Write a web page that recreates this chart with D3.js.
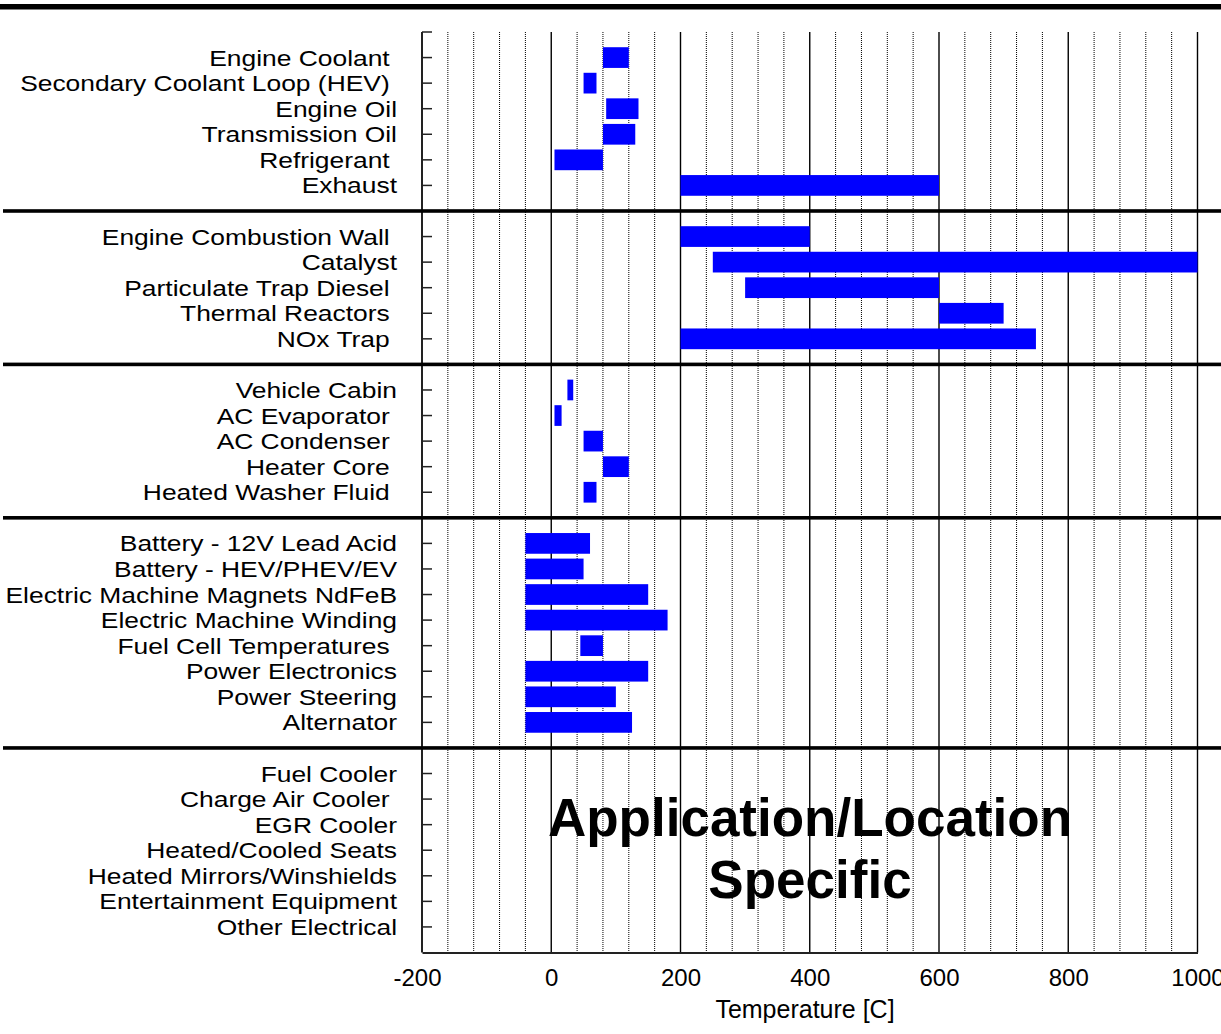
<!DOCTYPE html>
<html>
<head>
<meta charset="utf-8">
<script src="https://cdn.jsdelivr.net/npm/d3@7"></script>
<style>
  html, body { margin: 0; padding: 0; background: #fff; }
  svg { display: block; }
  text { font-family: "Liberation Sans", Arial, sans-serif; white-space: pre; }
</style>
</head>
<body>
<svg id="chart" width="1221" height="1034"></svg>
<script>
// ---------- DATA ----------
const categories = [
  "Engine Coolant ", "Secondary Coolant Loop (HEV) ", "Engine Oil", "Transmission Oil", "Refrigerant ", "Exhaust",
  "Engine Combustion Wall ", "Catalyst", "Particulate Trap Diesel ", "Thermal Reactors ", "NOx Trap ",
  "Vehicle Cabin", "AC Evaporator ", "AC Condenser ", "Heater Core ", "Heated Washer Fluid ",
  "Battery - 12V Lead Acid", "Battery - HEV/PHEV/EV", "Electric Machine Magnets NdFeB", "Electric Machine Winding",
  "Fuel Cell Temperatures ", "Power Electronics", "Power Steering", "Alternator",
  "Fuel Cooler", "Charge Air Cooler ", "EGR Cooler", "Heated/Cooled Seats", "Heated Mirrors/Winshields",
  "Entertainment Equipment", "Other Electrical"
];
const groupSizes = [6, 5, 5, 8, 7];
const lowTemps = [
  80, 50, 85, 80, 5, 200,
  200, 250, 300, 600, 200,
  25, 5, 50, 80, 50,
  -40, -40, -40, -40, 45, -40, -40, -40,
  null, null, null, null, null, null, null
];
const highTemps = [
  120, 70, 135, 130, 80, 600,
  400, 1000, 600, 700, 750,
  34, 16, 80, 120, 70,
  60, 50, 150, 180, 80, 150, 100, 125,
  null, null, null, null, null, null, null
];
const xTicks = [-200, 0, 200, 400, 600, 800, 1000];
const xMinorStep = 40;
const xTitle = "Temperature [C]";
const overlayLines = ["Application/Location", "Specific"];

// ---------- LAYOUT ----------
const svg = d3.select("#chart");
const W = 1221, H = 1034;
const x = d3.scaleLinear().domain([-200, 1000]).range([422, 1197.5]);
const nSlots = d3.sum(groupSizes) + groupSizes.length; // 36
const y = d3.scaleLinear().domain([0, nSlots]).range([32, 952.5]);

const rows = [];
const separators = [];
let slot = 1;
groupSizes.forEach((n, g) => {
  const start = d3.sum(groupSizes.slice(0, g));
  for (let i = 0; i < n; i++) {
    const k = start + i;
    rows.push({ name: categories[k], lo: lowTemps[k], hi: highTemps[k], slot: slot });
    slot++;
  }
  if (g < groupSizes.length - 1) { separators.push(slot); slot++; }
});

// ---------- GRID ----------
const minorVals = d3.range(-200 + xMinorStep, 1000 + 1, xMinorStep).filter(v => !xTicks.includes(v));
svg.append("g").selectAll("line").data(minorVals).join("line")
  .attr("x1", d => x(d)).attr("x2", d => x(d))
  .attr("y1", y(0)).attr("y2", y(nSlots))
  .attr("stroke", "#000").attr("stroke-width", 1)
  .attr("stroke-dasharray", "1,1");
svg.append("g").selectAll("line").data(xTicks.filter(v => v > -200)).join("line")
  .attr("x1", d => x(d)).attr("x2", d => x(d))
  .attr("y1", y(0)).attr("y2", y(nSlots))
  .attr("stroke", "#000").attr("stroke-width", 1.4);

// ---------- BARS ----------
const bandH = (y(1) - y(0)) * 0.81;
svg.append("g").selectAll("rect").data(rows.filter(r => r.lo !== null)).join("rect")
  .attr("x", d => x(d.lo))
  .attr("width", d => x(d.hi) - x(d.lo))
  .attr("y", d => y(d.slot) - bandH / 2)
  .attr("height", bandH)
  .attr("fill", "#0000ff");

// ---------- AXES ----------
svg.append("line").attr("x1", x(-200)).attr("x2", x(-200)).attr("y1", y(0)).attr("y2", y(nSlots))
  .attr("stroke", "#222").attr("stroke-width", 2);
svg.append("g").selectAll("line").data(d3.range(0, nSlots)).join("line")
  .attr("x1", x(-200)).attr("x2", x(-200) + 10)
  .attr("y1", d => y(d)).attr("y2", d => y(d))
  .attr("stroke", "#222").attr("stroke-width", 1.5);
const xAxis = d3.axisBottom(x).tickValues(xTicks).tickSize(0).tickPadding(0).tickFormat(d => String(d));
const gx = svg.append("g").attr("transform", `translate(0,${y(nSlots)})`).call(xAxis);
gx.select(".domain").attr("stroke", "#222").attr("stroke-width", 2);
gx.selectAll("text")
  .attr("font-size", 24).attr("fill", "#000")
  .attr("font-family", "'Liberation Sans', Arial, sans-serif")
  .attr("dy", null).attr("y", 33)
  .attr("dx", d => d < 0 ? -5 : 0);

svg.append("text").attr("x", 805).attr("y", 1018).attr("text-anchor", "middle")
  .attr("font-size", 25).text(xTitle);

// ---------- CATEGORY LABELS ----------
const lab = svg.append("g");
lab.selectAll("text").data(rows).join("text")
  .attr("transform", d => `translate(397,${y(d.slot) + 8}) scale(1.2,1)`)
  .attr("text-anchor", "end")
  .attr("font-size", 22)
  .attr("fill", "#000")
  .text(d => d.name);

// ---------- SEPARATORS ----------
svg.append("rect").attr("x", 0).attr("y", 4).attr("width", W).attr("height", 5.5).attr("fill", "#000");
svg.append("g").selectAll("rect").data(separators).join("rect")
  .attr("x", 3).attr("width", W - 3)
  .attr("y", d => y(d) - 1.8).attr("height", 3.6)
  .attr("fill", "#000");

// ---------- OVERLAY TEXT ----------
svg.append("g").selectAll("text").data(overlayLines).join("text")
  .attr("x", 810).attr("y", (d, i) => 836 + i * 62)
  .attr("text-anchor", "middle")
  .attr("font-size", 53).attr("font-weight", "bold").attr("fill", "#000")
  .text(d => d);
</script>
</body>
</html>
